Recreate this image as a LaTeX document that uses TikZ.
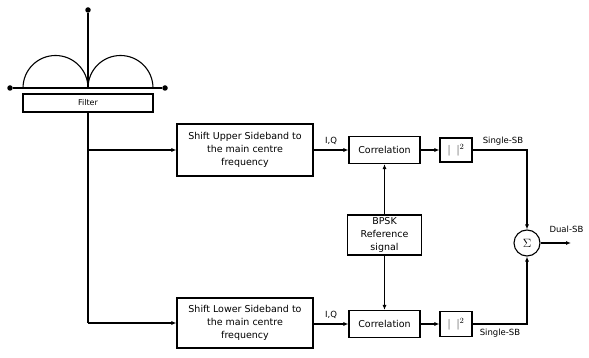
\documentclass[tikz,border=0pt]{standalone}
\usepackage{fontspec}
\setmainfont{DejaVu Sans}
\usetikzlibrary{arrows.meta}
\begin{document}
\begin{tikzpicture}[x=1pt,y=-1pt,
  line width=1.1pt,
  every node/.style={font=\fontsize{9.5}{13}\selectfont, inner sep=0pt},
  blk/.style={draw, rectangle, align=center, line width=1.1pt},
  arr/.style={-{Latex[length=5pt,width=4pt]}},
  dotc/.style={circle, fill, minimum size=5.5pt, inner sep=0pt},
  lbl/.style={font=\fontsize{8.5}{10}\selectfont}]
\useasboundingbox (0,0) rectangle (589,358);
% filter symbol
\node[dotc] (top) at (88,10) {};
\node[dotc] (ldot) at (10,88) {};
\node[dotc] (rdot) at (165,88) {};
\coordinate (mid) at (88,88);
\draw (ldot) -- (rdot);
\draw (top) -- (mid);
\draw (23,88) arc[start angle=180, end angle=360, radius=32.5];
\draw (88,88) arc[start angle=180, end angle=360, radius=32.5];
\node[blk, minimum width=130pt, minimum height=18pt, font=\fontsize{8}{10}\selectfont] (filter) at (88,103) {Filter};
% blocks
\node[blk, minimum width=136pt, minimum height=52pt] (upper) at (245,150) {Shift Upper Sideband to\\the main centre\\frequency};
\node[blk, minimum width=136pt, minimum height=50pt] (lower) at (245,323) {Shift Lower Sideband to\\the main centre\\frequency};
\node[blk, minimum width=71pt, minimum height=27pt] (corrU) at (384.5,150) {Correlation};
\node[blk, minimum width=71pt, minimum height=27pt] (corrL) at (384.5,324) {Correlation};
\node[blk, minimum width=74pt, minimum height=40pt] (bpsk) at (384.5,235) {BPSK\\Reference\\signal};
\node[blk, minimum width=32pt, minimum height=24pt, font=\fontsize{11}{13}\selectfont] (sqU) at (456,150) {$|\;\;|^2$};
\node[blk, minimum width=32pt, minimum height=25pt, font=\fontsize{11}{13}\selectfont] (sqL) at (456,324) {$|\;\;|^2$};
\node[draw, circle, minimum size=26pt, line width=1.1pt, font=\fontsize{12}{14}\selectfont] (sum) at (527,243) {$\Sigma$};
% trunk
\coordinate (jU) at (88,150);
\coordinate (jL) at (88,323);
\draw (filter.south) -- (jL);
\draw[arr] (jU) -- (upper.west);
\draw[arr] (jL) -- (lower.west);
\draw[arr] (upper.east) -- node[lbl, above=5pt] {I,Q} (corrU.west);
\draw[arr] (lower.east |- corrL.west) -- node[lbl, above=5pt] {I,Q} (corrL.west);
\draw[arr] (corrU.east) -- (sqU.west);
\draw[arr] (corrL.east) -- (sqL.west);
\draw[arr] (bpsk.north) -- (corrU.south);
\draw[arr] (bpsk.south) -- (corrL.north);
\draw[arr] (sqU.east) -| (sum.north);
\draw[arr] (sqL.east) -| (sum.south);
\coordinate (out) at (571,243);
\draw[arr] (sum.east) -- (out);
\node[lbl] (lsu) at (503,141) {Single-SB};
\node[lbl] (lsl) at (500,333) {Single-SB};
\node[lbl, anchor=west] (ldual) at (549,229) {Dual-SB};
\end{tikzpicture}
\end{document}
